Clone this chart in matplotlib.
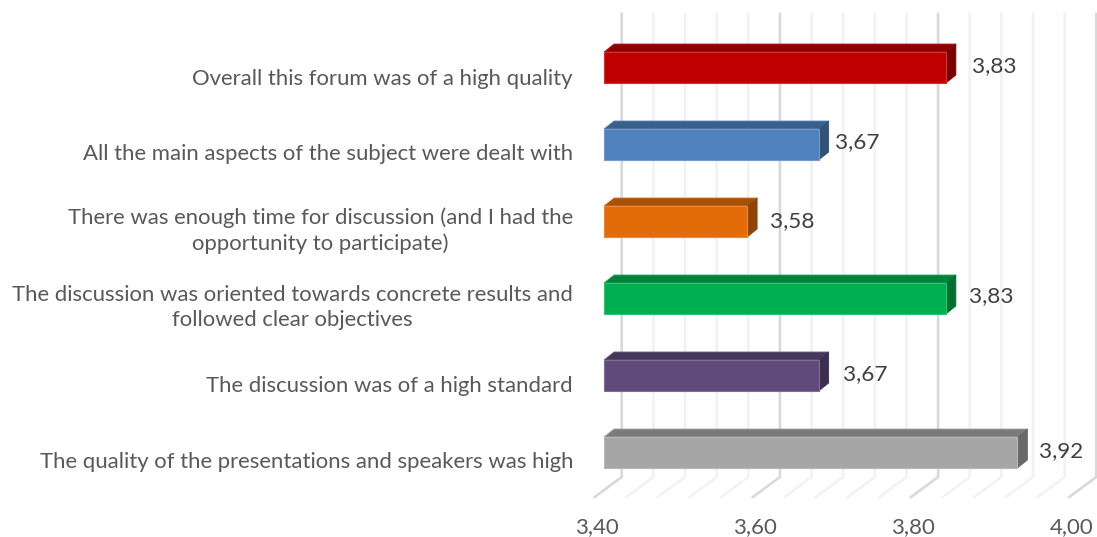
import matplotlib
matplotlib.use('Agg')
from matplotlib import pyplot as plt
from matplotlib.patches import Polygon, Rectangle
import numpy as np

questions = [
    'Overall this forum was of a high quality',
    'All the main aspects of the subject were dealt with',
    'There was enough time for discussion (and I had the\nopportunity to participate)',
    'The discussion was oriented towards concrete results and\nfollowed clear objectives',
    'The discussion was of a high standard',
    'The quality of the presentations and speakers was high',
]
scores = [3.83, 3.67, 3.58, 3.83, 3.67, 3.92]
score_labels = ['3,83', '3,67', '3,58', '3,83', '3,67', '3,92']
bar_colors = ['#C00000', '#4F81BD', '#E36C09', '#00B050', '#604A7B', '#A6A6A6']
major_ticks = [3.40, 3.60, 3.80, 4.00]
tick_labels = ['3,40', '3,60', '3,80', '4,00']
minor_ticks = [3.44, 3.48, 3.52, 3.56, 3.64, 3.68, 3.72, 3.76, 3.84, 3.88, 3.92, 3.96]

plt.rcParams['font.family'] = ['Lato', 'DejaVu Sans']

W, H = 1097, 537
fig = plt.figure(figsize=(W/100, H/100), dpi=100)

# back wall and floor, y axis is in pixels here
grid_scale = 791
grid_x0 = 621.7
ax_grid = fig.add_axes([0, 0, 1, 1])
ax_grid.set_xlim(3.4 - grid_x0/grid_scale, 3.4 + (W - grid_x0)/grid_scale)
ax_grid.set_ylim(H, 0)
ax_grid.set_axis_off()

for ticks, col in ((minor_ticks, '#F2F2F2'), (major_ticks, '#D9D9D9')):
    for v in ticks:
        ax_grid.plot([v, v, v - 27/grid_scale], [14, 477, 497], color=col, lw=1.9,
                     solid_joinstyle='miter', clip_on=True)

for v, lab in zip(major_ticks, tick_labels):
    ax_grid.text(v - 25/grid_scale, 527, lab, ha='center', va='center',
                 fontsize=16, color='#595959')

# bars, the y axis counts categories from the top
bar_scale = 795
bar_x0 = 604
row_h = 77
row_y0 = 67.5
ax = fig.add_axes([0, 0, 1, 1])
ax.patch.set_alpha(0)
ax.set_xlim(3.4 - bar_x0/bar_scale, 3.4 + (W - bar_x0)/bar_scale)
ax.set_ylim((H - row_y0)/row_h, -row_y0/row_h)
ax.set_axis_off()

base = 3.40
half = 15.5/row_h
dx = 10/bar_scale
dy = 8/row_h
label_dx = [26, 16, 23, 23, 24, 22]
label_dy = [-1, -2, 0, -2, -1, -1]
text_dy = [12, 10, 9, 9, 10, 9]

for i, (q, s, lab, c) in enumerate(zip(questions, scores, score_labels, bar_colors)):
    rgb = np.array(matplotlib.colors.to_rgb(c))
    ax.add_patch(Polygon([(base, i - half), (base + dx, i - half - dy),
                          (s + dx, i - half - dy), (s, i - half)],
                         facecolor=rgb*0.74, edgecolor=rgb*0.74 + 0.26*0.6, lw=0.6))
    ax.add_patch(Polygon([(s, i - half), (s + dx, i - half - dy),
                          (s + dx, i + half - dy), (s, i + half)],
                         facecolor=rgb*0.63, edgecolor=rgb*0.63, lw=0.6))
    ax.add_patch(Rectangle((base, i - half), s - base, 2*half, facecolor=c,
                           edgecolor=rgb*0.8 + 0.2, lw=0.8))
    ax.text(s + label_dx[i]/bar_scale, i + label_dy[i]/row_h, lab, ha='left', va='center',
            fontsize=16.2, color='#404040')
    ax.text(3.4 - 31/bar_scale, i + text_dy[i]/row_h, q, ha='right', va='center',
            multialignment='center', linespacing=1.33, fontsize=15.9, color='#595959')

fig.savefig('out.png', dpi=100)
